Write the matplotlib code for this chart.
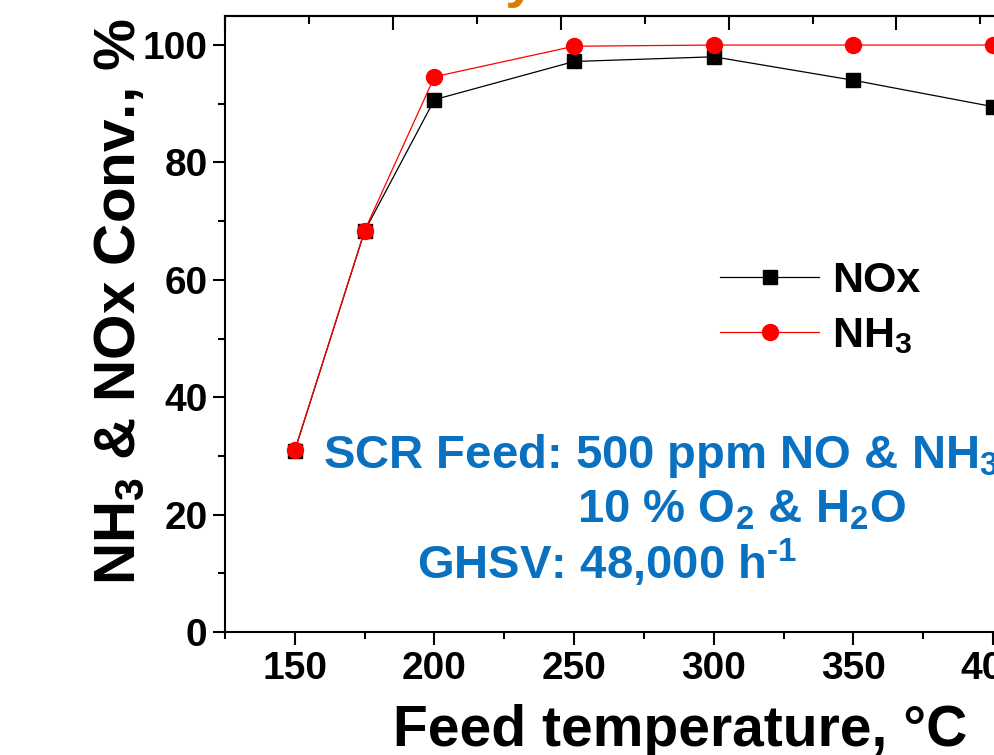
import numpy as np
import matplotlib
matplotlib.use('Agg')
import matplotlib.pyplot as plt
from matplotlib.ticker import MultipleLocator

'''
Data read from the picture
'''
temps = [150, 175, 200, 250, 300, 350, 400]
nox = [30.9, 68.3, 90.7, 97.2, 98.0, 94.0, 89.5]
nh3 = [31.0, 68.4, 94.6, 99.8, 100.0, 100.0, 100.0]

xlabel = 'Feed temperature, °C'
ylabel = 'NH$_3$ & NOx Conv., %'
feed_lines = ['SCR Feed: 500 ppm NO & NH$_3$',
              '10 % O$_2$ & H$_2$O',
              'GHSV: 48,000 h$^{\u2010 1}$']

blue = '#0A70C0'

plt.rcParams['font.family'] = ['Liberation Sans', 'DejaVu Sans']
plt.rcParams['font.weight'] = 'bold'
plt.rcParams['mathtext.fontset'] = 'custom'
plt.rcParams['mathtext.rm'] = 'Liberation Sans:bold'
plt.rcParams['mathtext.it'] = 'Liberation Sans:bold'
plt.rcParams['mathtext.bf'] = 'Liberation Sans:bold'
plt.rcParams['mathtext.default'] = 'bf'

fig = plt.figure(figsize=(9.95, 7.55), dpi=100)
# axes run past the right edge of the picture (the original is cropped)
ax = fig.add_axes([0.2261, 0.1629, 0.8422, 0.8163])

ax.plot(temps, nox, color='black', lw=0.9, marker='s', ms=10, label='NOx', zorder=3)
ax.plot(temps, nh3, color='red', lw=0.9, marker='o', ms=11.5, label='NH$_3$', zorder=4)

ax.set_xlim(125, 425)
ax.set_ylim(0, 105)
ax.xaxis.set_major_locator(MultipleLocator(50))
ax.xaxis.set_minor_locator(MultipleLocator(25))
ax.yaxis.set_major_locator(MultipleLocator(20))
ax.yaxis.set_minor_locator(MultipleLocator(10))

for s in ax.spines.values():
    s.set_linewidth(1.5)

ax.tick_params(axis='x', which='major', direction='out', length=9.5, width=1.5,
               labelsize=28, pad=4, top=False)
ax.tick_params(axis='x', which='minor', direction='out', length=5, width=1.5, top=False)
ax.tick_params(axis='y', which='major', direction='out', length=8.5, width=1.5,
               labelsize=28, pad=4, right=False)
ax.tick_params(axis='y', which='minor', direction='out', length=5, width=1.5, right=False)
for lab in ax.get_xticklabels() + ax.get_yticklabels():
    lab.set_fontweight('bold')

# top axis has its own tick spacing in the original
sec = ax.secondary_xaxis('top', functions=(lambda x: (x - 125) / 60.1,
                                           lambda u: u * 60.1 + 125))
sec.xaxis.set_major_locator(MultipleLocator(1))
sec.xaxis.set_minor_locator(MultipleLocator(0.5))
sec.tick_params(which='major', direction='in', length=10, width=1.5, labeltop=False)
sec.tick_params(which='minor', direction='in', length=5.8, width=1.5)
sec.spines['top'].set_linewidth(1.5)

ax.set_xlabel(xlabel, fontsize=41, fontweight='bold')
ax.xaxis.set_label_coords(0.543, -0.116)
ax.set_ylabel(ylabel, fontsize=42, fontweight='bold')
ax.yaxis.set_label_coords(-0.093, 0.536)

leg = ax.legend(loc='upper left', bbox_to_anchor=(720 / 995, 1 - 261 / 755),
                bbox_transform=fig.transFigure, frameon=False, fontsize=31,
                handlelength=2.3, handletextpad=0.3, labelspacing=0.36,
                borderpad=0, borderaxespad=0)

ax.text(160.0, 28.0, feed_lines[0], color=blue, fontsize=34, va='baseline')
ax.text(250.9, 18.6, feed_lines[1], color=blue, fontsize=34, va='baseline')
ax.text(193.7, 8.9, feed_lines[2], color=blue, fontsize=34, va='baseline')

# orange heading sits above the cropped top edge, only the descender shows
fig.text(537 / 995, 1 + 4 / 755, 'Activity', color='#DC7D00', fontsize=40,
         fontweight='bold', ha='right', va='baseline')

fig.savefig('out.png', dpi=100)
